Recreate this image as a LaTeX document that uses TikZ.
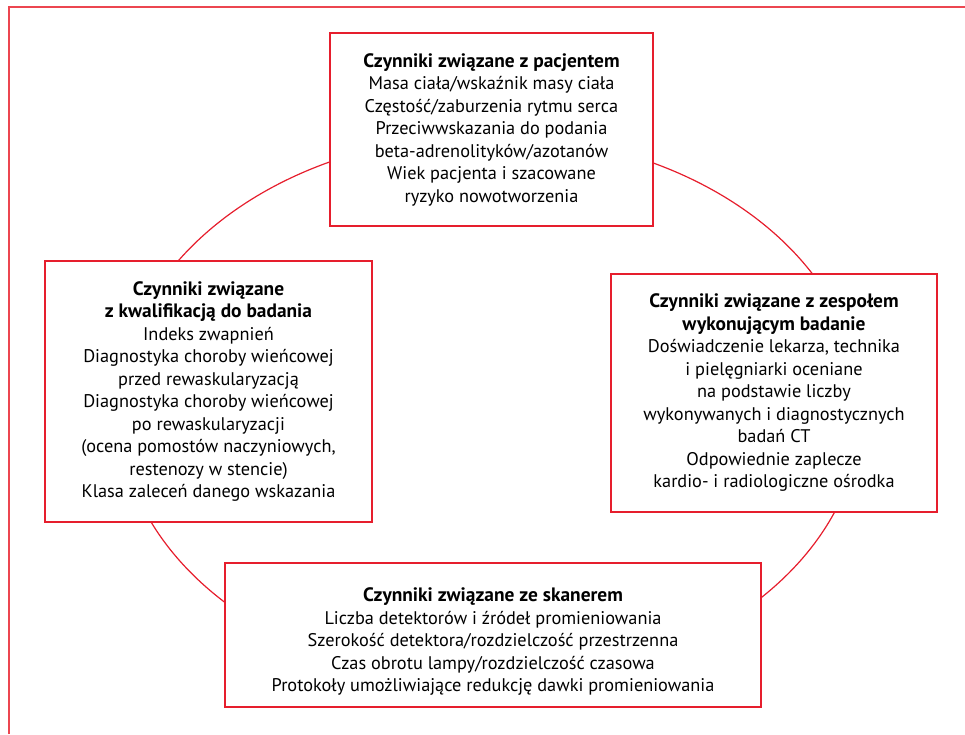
\documentclass[tikz,border=0pt]{standalone}
\usepackage{fontspec}
\setmainfont{PT Sans}
\definecolor{boxred}{RGB}{230,30,45}
\definecolor{framered}{RGB}{236,70,80}
\newcommand{\headline}[1]{{\fontsize{19.4}{22.5}\selectfont\bfseries #1}}
\begin{document}
\begin{tikzpicture}[x=1pt,y=-1pt,
  factor/.style={draw=boxred, line width=1.3pt, fill=white, align=center,
    inner sep=0pt, font=\fontsize{18.3}{22.5}\selectfont},
  ring/.style={draw=boxred, line width=1.2pt},
  framestyle/.style={draw=framered, line width=2pt}]
\useasboundingbox (0,0) rectangle (965,734);
\draw[framestyle] (9,734) -- (9,7) -- (965,7);
\coordinate (c) at (490,410);
\draw[ring] (c) ellipse [x radius=371pt, y radius=275pt];
\node[factor, minimum width=323pt, minimum height=193pt] (top) at (491.5,129.5)
  {\headline{Czynniki związane z pacjentem}\\
   Masa ciała/wskaźnik masy ciała\\
   Częstość/zaburzenia rytmu serca\\
   Przeciwwskazania do podania\\
   beta-adrenolityków/azotanów\\
   Wiek pacjenta i szacowane\\
   ryzyko nowotworzenia};
\node[factor, minimum width=327pt, minimum height=261pt] (left) at (208.5,391.5)
  {\headline{Czynniki związane}\\
   \headline{z kwalifikacją do badania}\\
   Indeks zwapnień\\
   Diagnostyka choroby wieńcowej\\
   przed rewaskularyzacją\\
   Diagnostyka choroby wieńcowej\\
   po rewaskularyzacji\\
   (ocena pomostów naczyniowych,\\
   restenozy w stencie)\\
   Klasa zaleceń danego wskazania};
\node[factor, minimum width=326pt, minimum height=238pt] (right) at (774,393)
  {\headline{Czynniki związane z zespołem}\\
   \headline{wykonującym badanie}\\
   Doświadczenie lekarza, technika\\
   i pielęgniarki oceniane\\
   na podstawie liczby\\
   wykonywanych i diagnostycznych\\
   badań CT\\
   Odpowiednie zaplecze\\
   kardio- i radiologiczne ośrodka};
\node[factor, minimum width=536pt, minimum height=144pt] (bottom) at (493,635)
  {\rule{0pt}{27pt}\headline{Czynniki związane ze skanerem}\\
   Liczba detektorów i źródeł promieniowania\\
   Szerokość detektora/rozdzielczość przestrzenna\\
   Czas obrotu lampy/rozdzielczość czasowa\\
   Protokoły umożliwiające redukcję dawki promieniowania};
\end{tikzpicture}
\end{document}
